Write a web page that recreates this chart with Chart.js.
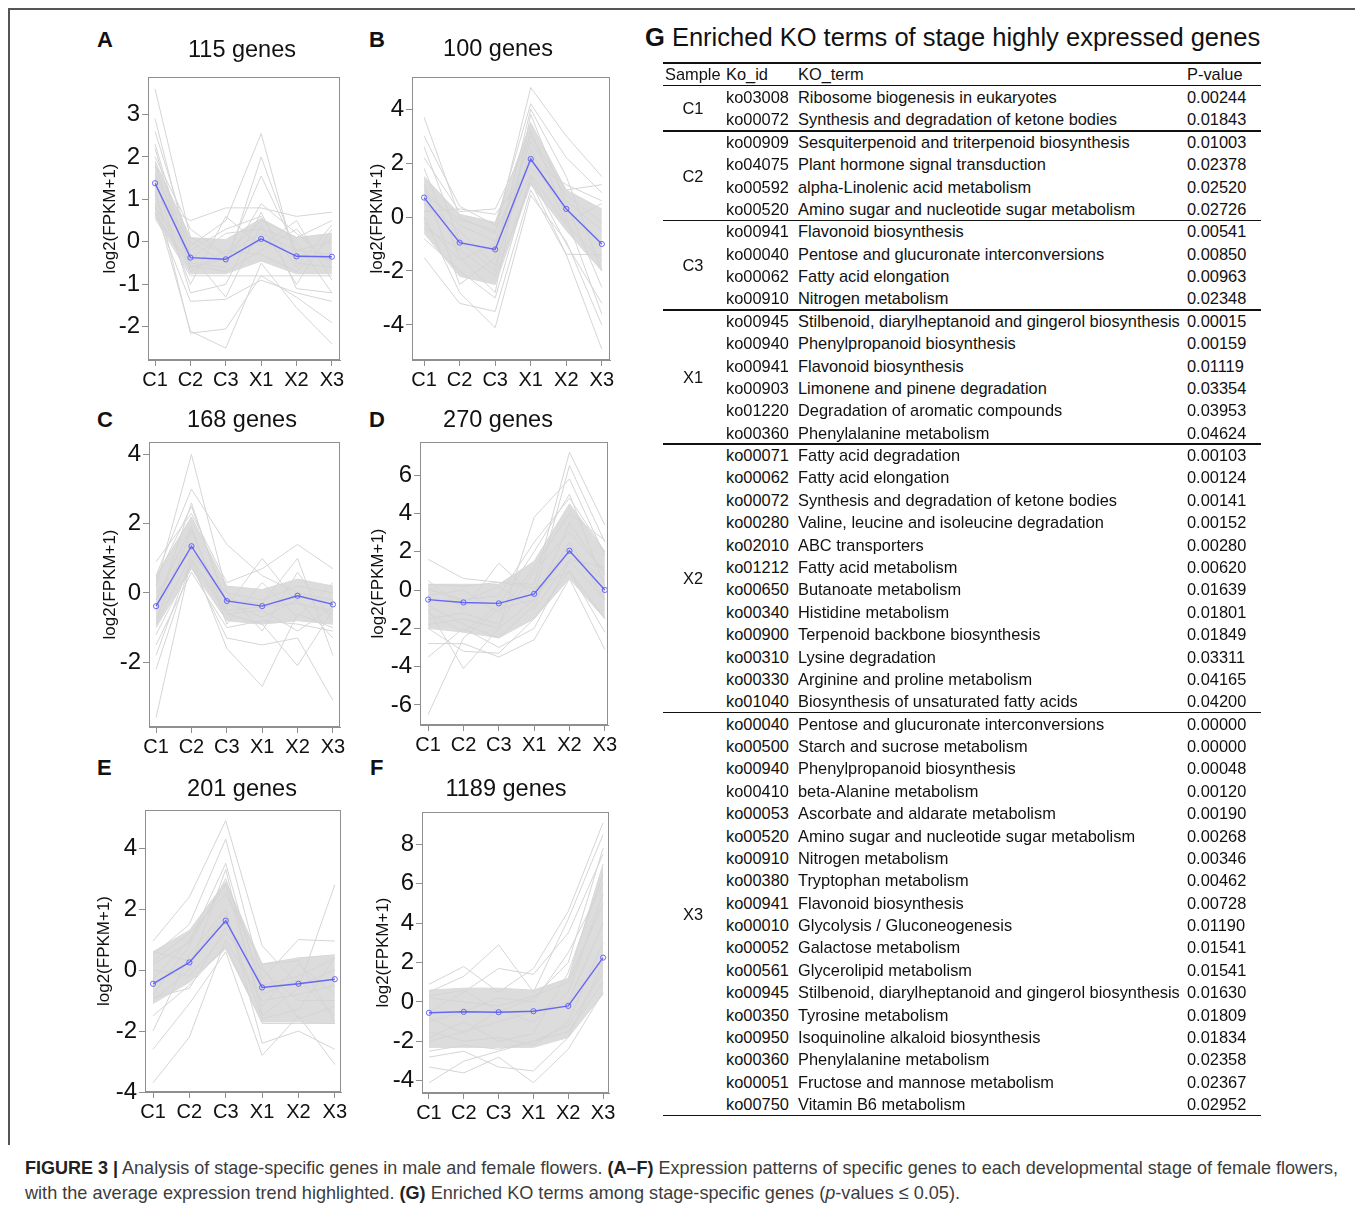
<!DOCTYPE html>
<html>
<head>
<meta charset="utf-8">
<script src="https://cdn.jsdelivr.net/npm/chart.js@4.4.1/dist/chart.umd.min.js"></script>
<style>
  body { margin:0; background:#fff; width:1355px; height:1209px; position:relative; overflow:hidden;
         font-family:'Liberation Sans', Arial, sans-serif; color:#111; }
  .abs { position:absolute; white-space:nowrap; }
  .letter { font-weight:bold; font-size:22px; }
  .ptitle { font-size:23.5px; transform:translateX(-50%); }
  .row { position:absolute; font-size:16.4px; height:22px; line-height:22px; white-space:nowrap; }
  .rule { position:absolute; left:663px; width:598px; background:#111; }
  .cap { position:absolute; left:25px; font-size:19px; line-height:25px; color:#3c3c3c;
         white-space:nowrap; transform-origin:0 50%; }
  .cap b { color:#222; }
</style>
</head>
<body>
<div class="abs" style="left:8px;top:8px;width:1347px;height:1.5px;background:#555"></div>
<div class="abs" style="left:8px;top:8px;width:1.5px;height:1137px;background:#555"></div>

<div class="abs letter" style="left:97px;top:27px">A</div>
<div class="abs letter" style="left:369px;top:27px">B</div>
<div class="abs letter" style="left:97px;top:407px">C</div>
<div class="abs letter" style="left:369px;top:407px">D</div>
<div class="abs letter" style="left:97px;top:755px">E</div>
<div class="abs letter" style="left:370px;top:755px">F</div>

<div class="abs" style="left:645px;top:23px;font-size:25.5px"><b>G</b> Enriched KO terms of stage highly expressed genes</div>

<span class="cap" id="cap1" style="top:1155px"><b>FIGURE 3 |</b> Analysis of stage-specific genes in male and female flowers. <b>(A–F)</b> Expression patterns of specific genes to each developmental stage of female flowers,</span>
<span class="cap" id="cap2" style="top:1180px">with the average expression trend highlighted. <b>(G)</b> Enriched KO terms among stage-specific genes (<i>p</i>-values ≤ 0.05).</span>

<script>
// stages on the x axis
const stages = ['C1', 'C2', 'C3', 'X1', 'X2', 'X3'];
const panelTitles = ['115 genes', '100 genes', '168 genes', '270 genes', '201 genes', '1189 genes'];

// A - C1 specific
const meanA = [1.38, -0.37, -0.41, 0.07, -0.34, -0.35];
const bandHiA = [1.9, 0.1, 0.05, 0.55, 0.1, 0.2];
const bandLoA = [0.6, -0.75, -0.75, -0.45, -0.75, -0.75];
const genesA = [
  [3.6, 0.1, -0.3, 0.2, -0.2, -0.3],
  [2.6, -0.1, 0.5, 2.55, -0.5, -0.6],
  [2.3, -0.5, -0.6, 2.0, -0.3, -0.4],
  [1.8, -0.6, -0.4, 1.55, -0.2, 0.0],
  [1.2, -2.15, -2.05, -0.8, -1.3, -1.9],
  [0.9, -2.1, -2.5, -0.5, -1.55, -2.4],
  [0.7, -1.4, -1.35, -0.9, -1.2, -1.4],
  [1.0, 0.5, 0.8, 0.8, 0.6, 0.7],
  [0.55, -0.8, -0.8, -0.8, -0.8, -0.8],
  [1.5, -1.2, -1.0, 0.7, -1.1, -1.2],
  [2.0, 0.3, -0.3, 0.5, 0.1, 0.5],
  [1.1, -1.0, 0.6, -0.1, 0.5, -0.9],
  [0.8, -0.3, -1.3, 0.4, -1.0, 0.3],
  [2.9, -0.4, 0.2, 0.3, 0.0, -1.2],
  [1.6, -0.2, 0.3, 0.6, -0.6, 0.4],
  [0.65, -0.55, -0.7, -0.2, 0.3, -0.6],
  [2.2, -0.7, -0.2, -0.3, -0.7, 0.1],
  [1.3, 0.0, -0.5, 0.9, 0.2, -0.5]
];
const ticksA = [-2, -1, 0, 1, 2, 3];

// B - X1 high
const meanB = [0.72, -0.95, -1.2, 2.15, 0.3, -1.0];
const bandHiB = [1.5, 0.1, -0.2, 3.5, 1.0, 0.3];
const bandLoB = [-0.6, -2.2, -2.5, 1.2, -0.5, -2.0];
const genesB = [
  [3.7, 0.0, -0.6, 4.8, 3.0, 1.5],
  [3.0, 0.4, -0.3, 4.2, 2.2, 0.9],
  [-1.5, -3.2, -3.5, 1.0, -1.4, -4.9],
  [0.0, -2.8, -4.1, 0.8, -0.9, -4.0],
  [1.8, -1.5, -2.8, 3.8, 0.5, -2.6],
  [-0.8, -2.0, -3.0, 1.5, -1.0, -3.2],
  [2.2, 0.2, 0.3, 3.0, 1.0, 1.2],
  [0.5, -0.5, -1.8, 2.5, -0.2, 0.5],
  [-0.4, -1.2, -2.2, 1.3, -1.38, -1.4],
  [1.2, -2.5, -1.5, 4.0, 1.5, -2.0],
  [0.2, 0.3, 0.1, 1.8, 0.6, -0.5],
  [1.0, -0.3, -0.9, 2.8, 0.8, -0.2],
  [-0.2, -1.6, -1.0, 1.6, -0.3, -1.6],
  [2.6, -0.9, -2.0, 3.2, 0.0, -3.6],
  [0.8, -0.1, -0.5, 2.0, 1.2, 0.6]
];
const ticksB = [-4, -2, 0, 2, 4];

// C - C2 specific
const meanC = [-0.38, 1.35, -0.23, -0.38, -0.08, -0.33];
const bandHiC = [0.5, 2.2, 0.2, 0.1, 0.4, 0.2];
const bandLoC = [-1.0, 0.7, -0.8, -0.9, -0.8, -0.9];
const genesC = [
  [-3.6, 1.0, -0.5, -0.4, -0.3, -0.6],
  [0.2, 4.0, 0.0, -0.2, 0.2, 0.0],
  [0.5, 3.0, 1.4, 0.5, 0.0, -0.2],
  [-0.5, 2.6, -0.4, 1.0, -0.3, -0.5],
  [-1.8, 1.0, -1.6, -2.7, -0.6, -1.0],
  [-0.8, 1.8, -0.6, -0.9, -2.1, -0.5],
  [0.9, 2.3, 0.3, 0.7, 1.4, 0.7],
  [-1.2, 0.8, -1.3, -1.5, -1.3, -3.1],
  [0.0, 1.2, -0.2, -0.3, 1.0, -1.8],
  [-1.5, 0.6, -1.0, -0.8, -0.9, -1.1],
  [-0.2, 1.9, -0.9, 0.3, -0.7, 0.3],
  [-0.9, 1.1, 0.0, -1.1, 0.6, -0.8],
  [0.4, 2.5, -0.3, -0.7, -0.2, -1.3],
  [-2.2, 0.9, -0.6, -0.5, -1.1, -0.4]
];
const ticksC = [-2, 0, 2, 4];

// D - X2 specific
const meanD = [-0.5, -0.65, -0.7, -0.2, 2.05, 0.0];
const bandHiD = [0.3, 0.3, 0.3, 1.5, 4.5, 2.0];
const bandLoD = [-2.0, -2.2, -2.5, -1.5, 0.6, -1.5];
const genesD = [
  [-6.5, -2.5, -1.0, -0.5, 2.0, 0.5],
  [-3.5, -2.0, -3.0, -2.0, 1.5, -0.5],
  [-2.8, -2.8, -3.5, -2.6, 0.6, -3.1],
  [1.6, 0.6, 0.4, 0.3, 7.2, 3.4],
  [0.5, -1.0, 1.4, -0.3, 6.5, 2.5],
  [-1.0, -4.1, -2.0, 3.8, 5.8, 1.8],
  [0.0, -0.5, -0.3, 2.5, 4.8, 2.0],
  [-2.0, -3.2, -3.3, -1.5, 1.0, -2.2],
  [-1.5, -1.2, -1.8, 1.0, 3.0, 1.0],
  [0.3, 0.2, 0.4, 0.1, 1.0, -1.5],
  [-0.8, -1.8, -2.5, -0.8, 3.5, 0.8],
  [-0.3, 0.0, -1.2, 1.2, 4.0, 2.6],
  [-1.8, -1.5, -2.0, -0.5, 2.5, -0.5],
  [0.1, -0.6, 0.2, -1.0, 1.6, 1.2],
  [-1.2, -2.2, -0.8, 2.0, 5.0, 0.2]
];
const ticksD = [-6, -4, -2, 0, 2, 4, 6];

// E - C3 specific
const meanE = [-0.45, 0.25, 1.62, -0.57, -0.45, -0.3];
const bandHiE = [0.6, 1.3, 2.9, 0.2, 0.4, 0.5];
const bandLoE = [-1.1, -0.4, 0.7, -1.7, -1.7, -1.75];
const genesE = [
  [-3.7, -2.2, 1.0, -1.0, -0.8, -0.5],
  [-2.6, -1.1, 0.6, -2.8, -1.5, -3.1],
  [-2.0, 0.5, 2.0, -2.4, -2.0, -2.6],
  [0.95, 2.4, 4.9, 0.8, -0.5, 0.0],
  [0.5, 1.5, 4.3, -0.3, 1.0, 0.95],
  [-1.0, 0.0, 3.3, -1.5, -0.6, 2.8],
  [0.3, 1.2, 2.5, 0.2, 0.3, -1.7],
  [-1.5, -0.5, 0.8, -1.75, -1.75, -1.75],
  [-0.8, 0.8, 3.0, -0.5, -0.2, 0.4],
  [0.0, -0.2, 1.2, 0.0, -1.0, -1.0],
  [-0.3, 1.0, 2.8, -1.2, 0.2, -0.8],
  [0.6, 0.3, 1.8, -1.6, -1.3, 0.4],
  [-0.9, -0.6, 1.4, 0.1, -1.6, -1.2],
  [0.2, 0.9, 3.5, -0.8, -0.3, -1.5]
];
const ticksE = [-4, -2, 0, 2, 4];

// F - X3 specific
const meanF = [-0.55, -0.5, -0.52, -0.47, -0.2, 2.25];
const bandHiF = [0.6, 0.7, 0.7, 0.6, 1.2, 7.0];
const bandLoF = [-2.3, -2.3, -2.3, -2.3, -1.8, 0.4];
const genesF = [
  [-4.1, -3.0, -2.5, -2.0, -1.5, 1.0],
  [-3.3, -3.6, -2.8, -4.1, -2.4, 0.5],
  [0.9, 1.8, 0.5, 1.7, 4.6, 9.1],
  [0.5, 1.3, 2.9, 0.5, 4.2, 8.5],
  [-0.5, 0.5, 1.7, 1.4, 3.5, 7.5],
  [-2.8, -2.5, -3.3, -3.5, -1.8, 2.0],
  [-1.0, -0.5, 0.2, 0.0, 2.5, 6.0],
  [0.2, 0.0, -0.2, 0.3, 1.0, 5.0],
  [-2.0, -1.5, -1.0, -0.5, 0.0, 4.0],
  [-1.5, -2.0, -1.8, -2.2, -1.0, 3.0],
  [-1.8, -1.0, -2.0, -1.6, 1.5, 6.5],
  [0.3, 0.6, -0.5, 0.2, 2.0, 7.8],
  [-2.5, -2.2, -2.4, -2.0, -1.2, 1.5],
  [-0.8, -1.6, -0.4, -1.0, 0.5, 5.5]
];
const ticksF = [-4, -2, 0, 2, 4, 6, 8];

// G - enriched KO terms
const sampleGroups = ['C1', 'C2', 'C3', 'X1', 'X2', 'X3'];
const groupSizes = [2, 4, 4, 6, 12, 18];
const koIds = ['ko03008','ko00072',
  'ko00909','ko04075','ko00592','ko00520',
  'ko00941','ko00040','ko00062','ko00910',
  'ko00945','ko00940','ko00941','ko00903','ko01220','ko00360',
  'ko00071','ko00062','ko00072','ko00280','ko02010','ko01212','ko00650','ko00340','ko00900','ko00310','ko00330','ko01040',
  'ko00040','ko00500','ko00940','ko00410','ko00053','ko00520','ko00910','ko00380','ko00941','ko00010','ko00052','ko00561','ko00945','ko00350','ko00950','ko00360','ko00051','ko00750'];
const koTerms = ['Ribosome biogenesis in eukaryotes','Synthesis and degradation of ketone bodies',
  'Sesquiterpenoid and triterpenoid biosynthesis','Plant hormone signal transduction','alpha-Linolenic acid metabolism','Amino sugar and nucleotide sugar metabolism',
  'Flavonoid biosynthesis','Pentose and glucuronate interconversions','Fatty acid elongation','Nitrogen metabolism',
  'Stilbenoid, diarylheptanoid and gingerol biosynthesis','Phenylpropanoid biosynthesis','Flavonoid biosynthesis','Limonene and pinene degradation','Degradation of aromatic compounds','Phenylalanine metabolism',
  'Fatty acid degradation','Fatty acid elongation','Synthesis and degradation of ketone bodies','Valine, leucine and isoleucine degradation','ABC transporters','Fatty acid metabolism','Butanoate metabolism','Histidine metabolism','Terpenoid backbone biosynthesis','Lysine degradation','Arginine and proline metabolism','Biosynthesis of unsaturated fatty acids',
  'Pentose and glucuronate interconversions','Starch and sucrose metabolism','Phenylpropanoid biosynthesis','beta-Alanine metabolism','Ascorbate and aldarate metabolism','Amino sugar and nucleotide sugar metabolism','Nitrogen metabolism','Tryptophan metabolism','Flavonoid biosynthesis','Glycolysis / Gluconeogenesis','Galactose metabolism','Glycerolipid metabolism','Stilbenoid, diarylheptanoid and gingerol biosynthesis','Tyrosine metabolism','Isoquinoline alkaloid biosynthesis','Phenylalanine metabolism','Fructose and mannose metabolism','Vitamin B6 metabolism'];
const pValues = [0.00244, 0.01843,
  0.01003, 0.02378, 0.02520, 0.02726,
  0.00541, 0.00850, 0.00963, 0.02348,
  0.00015, 0.00159, 0.01119, 0.03354, 0.03953, 0.04624,
  0.00103, 0.00124, 0.00141, 0.00152, 0.00280, 0.00620, 0.01639, 0.01801, 0.01849, 0.03311, 0.04165, 0.04200,
  0.00000, 0.00000, 0.00048, 0.00120, 0.00190, 0.00268, 0.00346, 0.00462, 0.00728, 0.01190, 0.01541, 0.01541, 0.01630, 0.01809, 0.01834, 0.02358, 0.02367, 0.02952];

// plot boxes on the page (chart area) + axis ranges
const layouts = [
  { l: 148, t: 77,  r: 340, b: 360,  ymin: -2.78, ymax: 3.88, xmin: -0.2,  xmax: 5.23, titleX: 110, head: [242, 50] },
  { l: 412, t: 77,  r: 610, b: 360,  ymin: -5.3,  ymax: 5.19, xmin: -0.34, xmax: 5.23, titleX: 377, head: [498, 49] },
  { l: 149, t: 442, r: 340, b: 727,  ymin: -3.87, ymax: 4.36, xmin: -0.2,  xmax: 5.2,  titleX: 110, head: [242, 420] },
  { l: 420, t: 442, r: 608, b: 725,  ymin: -7.05, ymax: 7.73, xmin: -0.23, xmax: 5.09, titleX: 378, head: [498, 420] },
  { l: 145, t: 810, r: 341, b: 1092, ymin: -4.0,  ymax: 5.25, xmin: -0.22, xmax: 5.17, titleX: 104, head: [242, 789] },
  { l: 422, t: 812, r: 609, b: 1093, ymin: -4.62, ymax: 9.64, xmin: -0.2,  xmax: 5.17, titleX: 383, head: [506, 789] }
];

Chart.defaults.font.family = "'Liberation Sans', Arial, sans-serif";
Chart.defaults.color = '#111';

// box around the plot region, like R's box()
const frame = {
  id: 'frame',
  afterDatasetsDraw(chart) {
    const a = chart.chartArea, ctx = chart.ctx;
    ctx.save();
    ctx.strokeStyle = '#8f8f8f';
    ctx.lineWidth = 1;
    ctx.strokeRect(Math.round(a.left) + 0.5, Math.round(a.top) + 0.5,
                   Math.round(a.right - a.left) - 1, Math.round(a.bottom - a.top) - 1);
    ctx.restore();
  }
};

function makePanel(box, title, mean, hi, lo, genes, ticks) {
  const yW = 70, xH = 42, padT = 24, padR = 18;
  const w = yW + (box.r - box.l) + padR;
  const h = padT + (box.b - box.t) + xH;
  const cv = document.createElement('canvas');
  cv.width = w; cv.height = h;
  cv.style.cssText = `position:absolute;left:${box.l - yW}px;top:${box.t - padT}px;width:${w}px;height:${h}px`;
  document.body.appendChild(cv);

  const head = document.createElement('div');
  head.className = 'abs ptitle';
  head.style.left = box.head[0] + 'px';
  head.style.top = (box.head[1] - 14) + 'px';
  head.textContent = title;
  document.body.appendChild(head);

  const xy = arr => arr.map((v, i) => ({ x: i, y: v }));
  const datasets = [];
  datasets.push({ data: xy(mean), borderColor: 'rgba(90,90,245,0.9)', borderWidth: 1.4,
    pointRadius: 2.6, pointBorderWidth: 1, pointBackgroundColor: 'rgba(255,255,255,0)',
    pointBorderColor: 'rgba(90,90,245,0.9)', order: 0 });
  genes.forEach(g => datasets.push({ data: xy(g), borderColor: '#d5d5d5', borderWidth: 1, pointRadius: 0, order: 1 }));
  datasets.push({ data: xy(hi), borderColor: '#d8d8d8', borderWidth: 1, pointRadius: 0,
    fill: '+1', backgroundColor: '#dcdcdc', order: 2 });
  datasets.push({ data: xy(lo), borderColor: '#d8d8d8', borderWidth: 1, pointRadius: 0, order: 3 });

  const titlePad = box.titleX - (box.l - yW) - 10.2;
  new Chart(cv, {
    type: 'line',
    data: { datasets },
    plugins: [frame],
    options: {
      responsive: false,
      animation: false,
      events: [],
      layout: { padding: { top: padT, right: padR, left: 0, bottom: 0 } },
      plugins: { legend: { display: false }, tooltip: { enabled: false } },
      scales: {
        x: {
          type: 'linear', min: box.xmin, max: box.xmax,
          afterBuildTicks: s => { s.ticks = stages.map((_, i) => ({ value: i })); },
          afterFit: s => { s.height = xH; },
          grid: { drawOnChartArea: false, tickLength: 6, color: '#8f8f8f' },
          border: { display: true, color: '#8f8f8f' },
          ticks: { callback: v => stages[v], font: { size: 20 }, color: '#111',
                   padding: 2, maxRotation: 0, autoSkip: false }
        },
        y: {
          type: 'linear', min: box.ymin, max: box.ymax,
          afterBuildTicks: s => { s.ticks = ticks.map(v => ({ value: v })); },
          afterFit: s => { s.width = yW; },
          grid: { drawOnChartArea: false, tickLength: 6, color: '#8f8f8f' },
          border: { display: true, color: '#8f8f8f' },
          ticks: { callback: v => String(v), font: { size: 24 }, color: '#111', padding: 2 },
          title: { display: true, text: 'log2(FPKM+1)', font: { size: 17 }, color: '#111',
                   padding: { top: titlePad, bottom: 0 } }
        }
      }
    }
  });
}

makePanel(layouts[0], panelTitles[0], meanA, bandHiA, bandLoA, genesA, ticksA);
makePanel(layouts[1], panelTitles[1], meanB, bandHiB, bandLoB, genesB, ticksB);
makePanel(layouts[2], panelTitles[2], meanC, bandHiC, bandLoC, genesC, ticksC);
makePanel(layouts[3], panelTitles[3], meanD, bandHiD, bandLoD, genesD, ticksD);
makePanel(layouts[4], panelTitles[4], meanE, bandHiE, bandLoE, genesE, ticksE);
makePanel(layouts[5], panelTitles[5], meanF, bandHiF, bandLoF, genesF, ticksF);

// table G
const rowTop = 86, rowH = 22.38;
function addDiv(cls, style, text) {
  const d = document.createElement('div');
  d.className = cls;
  d.style.cssText = style;
  d.textContent = text;
  document.body.appendChild(d);
}
addDiv('rule', 'top:61.5px;height:2px', '');
addDiv('rule', 'top:84.5px;height:1.5px', '');
addDiv('row', 'left:665px;top:63px', 'Sample');
addDiv('row', 'left:726px;top:63px', 'Ko_id');
addDiv('row', 'left:798px;top:63px', 'KO_term');
addDiv('row', 'left:1187px;top:63px', 'P-value');
koIds.forEach((id, i) => {
  const y = rowTop + i * rowH;
  addDiv('row', `left:726px;top:${y}px`, id);
  addDiv('row', `left:798px;top:${y}px`, koTerms[i]);
  addDiv('row', `left:1187px;top:${y}px`, pValues[i].toFixed(5));
});
let start = 0;
sampleGroups.forEach((g, k) => {
  const mid = rowTop + (start + groupSizes[k] / 2) * rowH;
  addDiv('row', `left:663px;width:60px;text-align:center;top:${mid - 11}px`, g);
  start += groupSizes[k];
  const ruleY = rowTop + start * rowH;
  addDiv('rule', `top:${ruleY - 0.75}px;height:1.5px`, '');
});

// caption lines squeezed to the width they take in the figure
[['cap1', 1313], ['cap2', 935]].forEach(([id, target]) => {
  const el = document.getElementById(id);
  const wNow = el.getBoundingClientRect().width;
  el.style.transform = `scaleX(${target / wNow})`;
});
</script>
</body>
</html>
